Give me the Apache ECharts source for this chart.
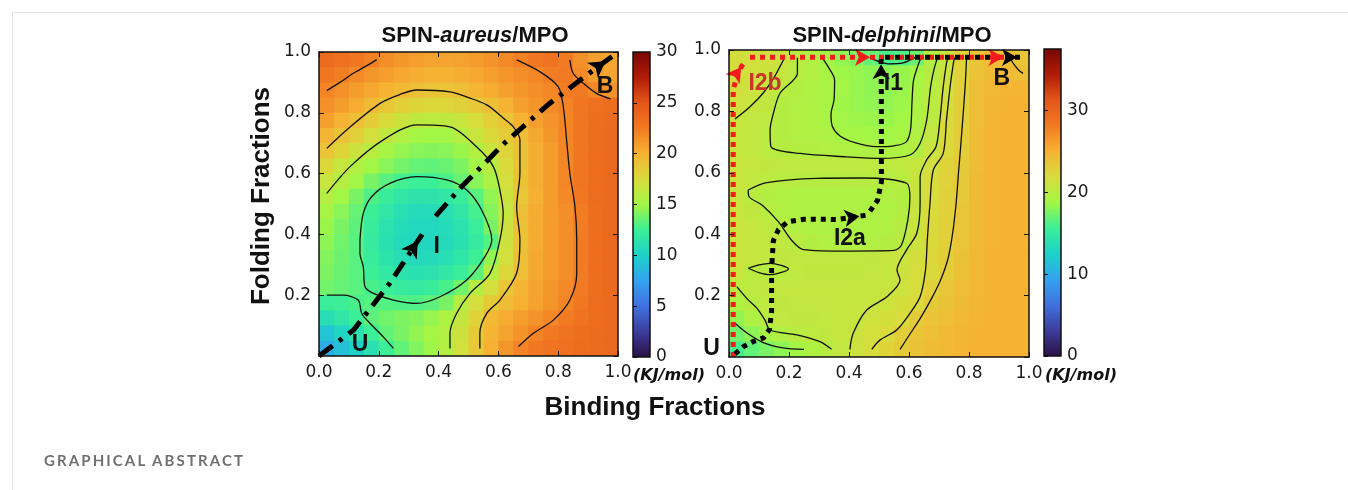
<!DOCTYPE html>
<html>
<head>
<meta charset="utf-8">
<script src="https://cdn.jsdelivr.net/npm/echarts@6/dist/echarts.min.js"></script>
<style>
html, body { margin: 0; background: #fff; }
#wrap { position: relative; width: 1348px; height: 490px; }
#chart { width: 1348px; height: 490px; }
#caption { position: absolute; left: 44px; top: 451px; font: bold 15px Lato, sans-serif; letter-spacing: 2.1px; color: #707070; }
</style>
</head>
<body>
<div id="wrap">
<div id="chart"></div>
<div id="caption">GRAPHICAL ABSTRACT</div>
</div>
<script>
// cell centres of the free-energy grids (fractions)
var cellX = [0.025,0.075,0.125,0.175,0.225,0.275,0.325,0.375,0.425,0.475,0.525,0.575,0.625,0.675,0.725,0.775,0.825,0.875,0.925,0.975];
var cellY = [0.975,0.925,0.875,0.825,0.775,0.725,0.675,0.625,0.575,0.525,0.475,0.425,0.375,0.325,0.275,0.225,0.175,0.125,0.075,0.025];
var cellHalf = 0.025;

// colour map, evenly spaced from min to max
var colourStops = ['#2b1146','#3d3d9c','#4071e0','#33a3f0','#1cd2c8','#3cef96','#a2f645','#d8dc3c','#f6b233','#f27a22','#e4561a','#b01c06','#780805'];

// SPIN-aureus/MPO free energy (kJ/mol), rows from top (folding 0.975) to bottom
var aureusRows = [
  [23.5,23.2,22.8,22.2,21.6,21.2,20.9,20.7,20.6,20.7,21.0,21.4,21.8,22.2,22.7,23.0,22.5,21.5,20.8,20.5],
  [22.8,22.3,21.8,21.3,20.9,20.5,20.2,20.0,20.0,20.2,20.5,20.9,21.3,21.6,21.9,22.4,22.6,21.8,21.0,20.6],
  [22.0,21.5,21.0,20.5,20.0,19.6,19.2,19.0,19.0,19.3,19.8,20.3,20.8,21.2,21.6,21.9,22.4,22.6,21.9,21.4],
  [21.5,21.0,20.3,19.5,18.8,18.3,18.0,17.8,17.9,18.2,18.7,19.2,20.0,20.8,21.3,21.7,22.1,22.8,23.2,23.3],
  [20.8,20.0,19.2,18.5,17.6,16.9,16.4,16.2,16.3,16.7,17.4,18.3,19.0,20.0,20.8,21.4,22.0,22.8,23.3,23.5],
  [19.8,19.0,18.3,17.3,16.4,15.7,15.2,15.0,15.1,15.9,16.8,17.7,18.5,19.3,20.4,21.2,22.0,22.8,23.4,23.6],
  [18.9,18.0,16.9,16.0,15.2,14.7,14.4,14.3,14.4,14.8,15.7,16.8,18.0,19.0,20.2,21.0,21.9,22.8,23.4,23.6],
  [17.8,16.6,15.7,15.0,14.4,13.9,13.5,13.4,13.6,14.1,15.0,15.9,17.6,19.0,20.2,21.0,21.9,22.8,23.4,23.6],
  [16.7,15.8,15.0,14.0,13.2,12.7,12.4,12.5,12.9,13.6,14.4,15.4,17.2,18.9,20.2,21.0,21.9,22.8,23.4,23.6],
  [15.9,15.0,14.0,13.0,12.2,11.7,11.4,11.4,11.7,12.3,13.2,14.6,16.9,18.8,20.1,21.0,21.8,22.7,23.4,23.6],
  [15.2,14.4,13.5,12.5,11.7,11.1,10.8,10.8,11.1,11.7,12.7,14.3,16.6,19.2,20.3,21.0,21.6,22.4,23.3,23.6],
  [14.8,14.0,13.3,12.2,11.3,10.8,10.5,10.5,10.8,11.3,12.3,14.0,17.0,19.1,20.3,21.0,21.6,22.4,23.3,23.6],
  [14.5,13.8,13.2,12.1,11.2,10.7,10.4,10.4,10.7,11.2,12.0,13.1,17.0,19.0,20.3,21.0,21.6,22.4,23.3,23.6],
  [14.3,13.7,13.2,12.2,11.4,10.9,10.6,10.7,11.0,11.6,12.5,14.6,17.2,19.2,20.4,21.0,21.6,22.4,23.3,23.6],
  [14.1,13.6,13.2,12.5,11.8,11.4,11.2,11.3,11.7,12.3,13.3,15.9,17.8,19.3,20.4,21.0,21.6,22.4,23.3,23.6],
  [13.8,13.5,13.2,12.8,12.4,12.1,12.0,12.2,12.8,13.8,15.9,17.2,18.8,19.8,20.6,21.2,21.8,22.5,23.3,23.6],
  [12.3,12.5,12.8,13.1,13.1,13.0,13.0,13.3,14.0,15.9,17.3,18.6,19.4,20.1,20.7,21.3,22.0,22.7,23.4,23.6],
  [11.0,11.6,12.4,13.3,13.8,14.1,14.3,14.7,15.5,16.5,18.0,19.6,20.3,20.9,21.4,21.9,22.5,23.0,23.4,23.6],
  [9.3,10.3,11.3,12.4,13.4,14.0,14.6,15.2,15.8,17.0,18.6,19.8,20.6,21.4,22.1,22.6,23.0,23.3,23.5,23.6],
  [8.0,9.0,10.0,11.2,12.4,13.4,14.2,14.9,15.8,17.2,18.7,20.1,21.2,22.1,22.7,23.0,23.2,23.4,23.5,23.6]
];

// SPIN-delphini/MPO free energy (kJ/mol), rows from top to bottom
var delphiniRows = [
  [21.6,21.5,21.3,21.1,20.1,19.5,18.9,18.3,17.6,16.9,16.0,16.2,17.1,19.6,20.9,22.5,23.6,24.2,24.1,23.5],
  [21.6,21.4,21.1,20.7,20.0,19.6,19.1,18.7,18.4,18.2,18.1,18.4,19.0,19.9,21.1,22.6,23.7,24.3,24.4,24.0],
  [21.6,21.2,20.8,20.0,19.7,19.4,19.1,18.8,18.4,18.2,18.2,18.5,19.1,20.0,21.4,22.8,24.0,24.6,24.8,24.8],
  [21.3,21.0,20.5,19.8,19.6,19.4,19.1,18.7,18.4,18.3,18.3,18.6,19.2,20.1,21.6,22.9,24.1,24.7,24.9,25.0],
  [20.9,20.6,20.3,19.8,19.6,19.4,19.2,18.8,18.6,18.5,18.5,18.8,19.3,20.2,22.0,22.9,24.1,24.8,25.0,25.0],
  [20.8,20.6,20.2,19.8,19.6,19.5,19.3,19.0,18.9,18.8,18.8,19.0,19.6,20.6,22.0,23.0,24.2,24.8,25.0,25.0],
  [20.8,20.6,20.2,19.9,19.8,19.7,19.6,19.5,19.4,19.3,19.3,19.4,19.8,21.0,22.2,23.0,24.2,24.8,25.0,25.0],
  [21.0,20.7,20.5,20.4,20.3,20.3,20.3,20.3,20.3,20.3,20.3,20.4,20.7,21.5,22.5,23.2,24.2,24.8,25.0,25.0],
  [21.0,20.6,20.2,20.0,19.9,19.9,19.9,19.9,19.9,19.9,19.9,20.0,20.9,21.9,22.6,23.3,24.3,24.8,25.0,25.0],
  [20.9,20.0,19.7,19.5,19.4,19.4,19.4,19.4,19.4,19.4,19.5,19.7,20.9,21.9,22.7,23.4,24.3,24.8,25.0,25.0],
  [21.0,20.5,20.0,19.6,19.4,19.3,19.3,19.3,19.3,19.3,19.4,19.7,20.9,22.0,22.8,23.5,24.3,24.8,25.0,25.0],
  [21.0,20.7,20.4,20.0,19.6,19.4,19.3,19.3,19.3,19.4,19.5,19.9,21.0,22.1,22.8,23.5,24.3,24.8,25.0,25.0],
  [21.0,20.8,20.6,20.4,20.0,19.7,19.6,19.6,19.6,19.6,19.7,20.0,21.2,22.2,22.8,23.6,24.4,24.8,25.0,25.0],
  [21.0,20.8,20.6,20.5,20.4,20.4,20.4,20.4,20.4,20.5,20.7,21.0,21.6,22.3,22.9,23.8,24.5,24.9,25.0,25.0],
  [20.9,20.2,19.9,20.1,20.4,20.5,20.5,20.5,20.5,20.6,20.8,21.1,21.8,22.1,23.0,23.9,24.5,24.9,25.0,25.0],
  [20.0,20.3,20.5,20.6,20.6,20.6,20.6,20.6,20.7,20.8,20.9,21.2,21.8,22.8,23.5,24.1,24.6,24.9,25.0,25.0],
  [19.4,19.9,20.3,20.5,20.6,20.6,20.6,20.7,20.8,20.9,21.2,21.6,22.0,23.2,23.8,24.3,24.7,24.9,25.0,25.0],
  [18.2,19.3,20.0,20.4,20.5,20.5,20.6,20.7,20.9,21.3,21.6,21.9,23.1,23.7,24.1,24.5,24.8,25.0,25.0,25.0],
  [17.3,18.1,19.0,19.6,20.1,20.3,20.5,20.8,21.1,21.5,21.9,22.9,23.6,24.0,24.4,24.7,24.9,25.0,25.0,25.0],
  [15.8,16.8,17.5,18.1,18.8,19.4,19.9,20.6,21.2,21.8,22.5,23.2,23.8,24.2,24.5,24.8,25.0,25.0,25.0,25.0]
];

var aureusMax = 30;
var delphiniMax = 37.5;

// contour lines, [binding, folding]
var aureusContours = [
  [[0.026,0.873],[0.07,0.9],[0.115,0.93],[0.16,0.955],[0.193,0.975]],
  [[0.026,0.683],[0.1,0.75],[0.204,0.831],[0.27,0.86],[0.327,0.875],[0.438,0.869],[0.5,0.85],[0.561,0.826],[0.62,0.78],[0.65,0.754],[0.672,0.711],[0.672,0.601],[0.661,0.491],[0.672,0.382],[0.661,0.272],[0.605,0.184],[0.561,0.14],[0.538,0.075],[0.538,0.025]],
  [[0.026,0.535],[0.104,0.623],[0.215,0.711],[0.327,0.76],[0.438,0.754],[0.527,0.688],[0.583,0.623],[0.605,0.546],[0.616,0.469],[0.605,0.382],[0.572,0.272],[0.505,0.206],[0.46,0.14],[0.438,0.075],[0.438,0.025]],
  [[0.137,0.382],[0.148,0.469],[0.176,0.524],[0.237,0.568],[0.327,0.59],[0.427,0.579],[0.494,0.546],[0.544,0.48],[0.578,0.382],[0.555,0.327],[0.494,0.25],[0.405,0.195],[0.327,0.173],[0.249,0.184],[0.182,0.206],[0.154,0.228],[0.148,0.294],[0.137,0.338],[0.137,0.382]],
  [[0.026,0.2],[0.081,0.2],[0.131,0.184],[0.143,0.14],[0.171,0.107],[0.215,0.063],[0.249,0.025]],
  [[0.661,0.974],[0.739,0.935],[0.8,0.886],[0.817,0.82],[0.828,0.711],[0.839,0.601],[0.856,0.491],[0.862,0.382],[0.862,0.272],[0.839,0.184],[0.784,0.118],[0.717,0.075],[0.667,0.031]],
  [[0.839,0.974],[0.85,0.93],[0.884,0.897],[0.928,0.864],[0.975,0.846]]
];

var delphiniContours = [
  [[0.02,0.775],[0.07,0.815],[0.114,0.86],[0.15,0.91],[0.172,0.95],[0.185,0.975]],
  [[0.228,0.975],[0.228,0.924],[0.17,0.859],[0.148,0.794],[0.137,0.739],[0.14,0.685],[0.237,0.663],[0.392,0.652],[0.503,0.647],[0.603,0.658],[0.637,0.696],[0.659,0.772],[0.672,0.88],[0.683,0.935],[0.695,0.975]],
  [[0.31,0.975],[0.33,0.946],[0.352,0.902],[0.35,0.837],[0.34,0.79],[0.345,0.75],[0.37,0.72],[0.42,0.698],[0.49,0.685],[0.55,0.688],[0.59,0.7],[0.605,0.74],[0.61,0.83],[0.615,0.9],[0.63,0.95],[0.64,0.975]],
  [[0.47,0.975],[0.5,0.962],[0.53,0.955],[0.58,0.958],[0.62,0.975]],
  [[0.064,0.544],[0.126,0.568],[0.29,0.582],[0.44,0.583],[0.592,0.566],[0.603,0.52],[0.596,0.446],[0.575,0.365],[0.55,0.347],[0.4,0.345],[0.248,0.35],[0.208,0.381],[0.165,0.44],[0.11,0.495],[0.067,0.522],[0.064,0.544]],
  [[0.064,0.289],[0.1,0.3],[0.137,0.305],[0.198,0.287],[0.137,0.268],[0.1,0.275],[0.064,0.289]],
  [[0.026,0.229],[0.06,0.19],[0.092,0.16],[0.12,0.12],[0.137,0.088],[0.226,0.072],[0.303,0.05],[0.342,0.025]],
  [[0.02,0.11],[0.06,0.078],[0.114,0.047],[0.18,0.03],[0.25,0.025]],
  [[0.403,0.025],[0.414,0.077],[0.459,0.153],[0.526,0.196],[0.57,0.251],[0.56,0.283],[0.592,0.349],[0.626,0.403],[0.637,0.501],[0.637,0.587],[0.659,0.642],[0.69,0.685],[0.703,0.772],[0.714,0.88],[0.725,0.957],[0.73,0.975]],
  [[0.476,0.025],[0.503,0.055],[0.559,0.088],[0.603,0.142],[0.637,0.196],[0.655,0.283],[0.661,0.381],[0.67,0.501],[0.681,0.609],[0.714,0.663],[0.725,0.772],[0.737,0.88],[0.748,0.957],[0.752,0.975]],
  [[0.792,0.975],[0.787,0.88],[0.775,0.72],[0.765,0.6],[0.757,0.5],[0.745,0.4],[0.73,0.32],[0.705,0.25],[0.675,0.19],[0.64,0.13],[0.6,0.07],[0.57,0.025]],
  [[0.937,0.975],[0.947,0.957],[0.965,0.935],[0.98,0.924]]
];

// pathways, each ends in an arrow head
var aureusPath = [
  [[0.0,0.0],[0.115,0.085],[0.237,0.24],[0.345,0.40]],
  [[0.39,0.46],[0.48,0.56],[0.62,0.70],[0.77,0.83],[0.93,0.95],[0.98,0.985]]
];
var delphiniBlackPath = [
  [[0.02,0.01],[0.05,0.035],[0.08,0.05],[0.115,0.062],[0.135,0.09],[0.142,0.15],[0.142,0.29],[0.148,0.38],[0.165,0.415],[0.195,0.44],[0.25,0.449],[0.36,0.448],[0.46,0.462]],
  [[0.47,0.475],[0.495,0.51],[0.508,0.57],[0.508,0.8],[0.507,0.95],[0.507,0.978]],
  [[0.52,0.976],[0.985,0.976]]
];
var delphiniRedPath = [
  [[0.014,0.0],[0.014,0.87],[0.03,0.93],[0.055,0.965]],
  [[0.07,0.976],[0.495,0.976]],
  [[0.5,0.976],[0.94,0.976]]
];

// state labels [text, binding, folding, colour]
var aureusLabels = [['U',0.137,0.036,'#111'],['I',0.394,0.36,'#111'],['B',0.957,0.886,'#111']];
var delphiniLabels = [['U',-0.058,0.028,'#111'],['I2b',0.12,0.89,'#c8352a'],['I1',0.548,0.89,'#111'],['B',0.909,0.908,'#111'],['I2a',0.403,0.387,'#111']];

function toCells(rows) {
  var out = [];
  for (var j = 0; j < rows.length; j++) {
    for (var i = 0; i < rows[j].length; i++) {
      out.push([cellX[i], cellY[j], rows[j][i]]);
    }
  }
  return out;
}

function renderCell(params, api) {
  var x = api.value(0), y = api.value(1);
  var p0 = api.coord([x - cellHalf, y + cellHalf]);
  var p1 = api.coord([x + cellHalf, y - cellHalf]);
  return {
    type: 'rect',
    shape: { x: p0[0], y: p0[1], width: p1[0] - p0[0] + 0.7, height: p1[1] - p0[1] + 0.7 },
    style: { fill: api.visual('color') }
  };
}

function renderColourBar(params, api) {
  var cs = params.coordSys;
  var stops = colourStops.map(function (c, i) {
    return { offset: i / (colourStops.length - 1), color: c };
  });
  return {
    type: 'group',
    children: [
      { type: 'rect', shape: { x: cs.x, y: cs.y, width: cs.width, height: cs.height },
        style: { fill: new echarts.graphic.LinearGradient(0, 1, 0, 0, stops) } },
      { type: 'rect', shape: { x: cs.x, y: cs.y, width: cs.width, height: cs.height },
        style: { fill: 'none', stroke: '#111', lineWidth: 1.5 } }
    ]
  };
}

var tickFont = { fontFamily: 'DejaVu Sans', fontSize: 17, color: '#1a1a1a' };

function frameAxis(pos, grid, showLabel) {
  return {
    type: 'value', gridIndex: grid, position: pos, min: 0, max: 1, interval: 0.2, z: 10,
    axisLine: { show: true, onZero: false, lineStyle: { color: '#111', width: 1.5 } },
    axisTick: { show: true, inside: true, length: 5, lineStyle: { color: '#111', width: 1 } },
    splitLine: { show: false },
    axisLabel: Object.assign({ show: showLabel, margin: 8, showMinLabel: pos === 'left' ? false : true,
      formatter: function (v) { return v.toFixed(1); } }, tickFont)
  };
}

function barAxis(grid, max, interval) {
  return {
    type: 'value', gridIndex: grid, position: 'right', min: 0, max: max, interval: interval, z: 10,
    axisLine: { show: false },
    axisTick: { show: true, length: 4, lineStyle: { color: '#111' } },
    splitLine: { show: false },
    axisLabel: Object.assign({ margin: 6, showMaxLabel: max % interval === 0 }, tickFont)
  };
}

function contourSeries(lines, axis) {
  return lines.map(function (pts) {
    return { type: 'line', xAxisIndex: axis, yAxisIndex: axis, data: pts, smooth: 0.3,
      symbol: 'none', silent: true, z: 3, lineStyle: { color: '#111', width: 1.3 } };
  });
}

// dashed body of each path
function pathSeries(paths, axis, colour, dash, width) {
  return { type: 'lines', coordinateSystem: 'cartesian2d', xAxisIndex: axis, yAxisIndex: axis,
    polyline: true, silent: true, z: 5,
    data: paths.map(function (p) { return { coords: p }; }),
    lineStyle: { color: colour, width: width, type: dash, cap: 'butt', opacity: 1 } };
}

// arrow head at the end of each path, turned along the last segment, tip on the end point
function arrowSeries(paths, axis, colour, size) {
  return { type: 'scatter', xAxisIndex: axis, yAxisIndex: axis, silent: true, z: 6, clip: false,
    symbol: 'arrow', symbolSize: size,
    itemStyle: { color: colour, opacity: 1 },
    data: paths.map(function (p) {
      var a = p[p.length - 2], b = p[p.length - 1];
      var dx = (b[0] - a[0]) * 300, dy = (b[1] - a[1]) * 305;
      var len = Math.sqrt(dx * dx + dy * dy), back = size[1] / 2;
      return {
        value: [b[0] - dx / len * back / 300, b[1] - dy / len * back / 305],
        symbolRotate: Math.atan2(dy, dx) * 180 / Math.PI - 90
      };
    }) };
}

function labelSeries(labels, axis) {
  return { type: 'scatter', xAxisIndex: axis, yAxisIndex: axis, symbolSize: 1, clip: false, silent: true, z: 7,
    itemStyle: { color: 'rgba(0,0,0,0)', opacity: 1 },
    data: labels.map(function (l) {
      return { name: l[0], value: [l[1], l[2]], label: { color: l[3] } };
    }),
    label: { show: true, position: 'inside', formatter: function (p) { return p.name; },
      fontFamily: 'Liberation Sans', fontWeight: 'bold', fontSize: 23 } };
}

var chart = echarts.init(document.getElementById('chart'));

var series = [
  { type: 'custom', xAxisIndex: 0, yAxisIndex: 0, renderItem: renderCell, data: toCells(aureusRows), clip: true, silent: true, z: 1 },
  { type: 'custom', xAxisIndex: 3, yAxisIndex: 3, renderItem: renderCell, data: toCells(delphiniRows), clip: true, silent: true, z: 1 },
  { type: 'custom', xAxisIndex: 2, yAxisIndex: 2, renderItem: renderColourBar, data: [[0, 0]], silent: true },
  { type: 'custom', xAxisIndex: 5, yAxisIndex: 5, renderItem: renderColourBar, data: [[0, 0]], silent: true }
];
series = series.concat(contourSeries(aureusContours, 0), contourSeries(delphiniContours, 3));
series.push(pathSeries(aureusPath, 0, '#000', [17, 8, 4, 8], 5));
series.push(arrowSeries(aureusPath, 0, '#000', [14, 16]));
series.push(pathSeries(delphiniRedPath, 3, '#f21c1c', [5, 5], 5));
series.push(arrowSeries(delphiniRedPath, 3, '#f21c1c', [13, 15]));
series.push(pathSeries(delphiniBlackPath, 3, '#000', [5, 5], 5));
series.push(arrowSeries(delphiniBlackPath, 3, '#000', [13, 15]));
series.push(labelSeries(aureusLabels, 0));
series.push(labelSeries(delphiniLabels, 3));

var option = {
  animation: false,
  textStyle: { fontFamily: 'DejaVu Sans' },
  grid: [
    { left: 319, top: 52, width: 299, height: 304 },
    { left: 633, top: 52, width: 17, height: 305 },
    { left: 729, top: 50, width: 300, height: 307 },
    { left: 1044, top: 49, width: 17, height: 307 }
  ],
  xAxis: [
    frameAxis('bottom', 0, true),
    frameAxis('top', 0, false),
    { type: 'value', gridIndex: 1, min: 0, max: 1, show: false },
    frameAxis('bottom', 2, true),
    frameAxis('top', 2, false),
    { type: 'value', gridIndex: 3, min: 0, max: 1, show: false }
  ],
  yAxis: [
    frameAxis('left', 0, true),
    frameAxis('right', 0, false),
    barAxis(1, aureusMax, 5),
    frameAxis('left', 2, true),
    frameAxis('right', 2, false),
    barAxis(3, delphiniMax, 10)
  ],
  visualMap: [
    { type: 'continuous', show: false, seriesIndex: 0, dimension: 2, min: 0, max: aureusMax, inRange: { color: colourStops } },
    { type: 'continuous', show: false, seriesIndex: 1, dimension: 2, min: 0, max: delphiniMax, inRange: { color: colourStops } }
  ],
  graphic: [
    { type: 'line', shape: { x1: 12, y1: 12.5, x2: 1348, y2: 12.5 }, style: { stroke: '#e2e2e2', lineWidth: 1 }, silent: true },
    { type: 'line', shape: { x1: 12.5, y1: 12, x2: 12.5, y2: 490 }, style: { stroke: '#e2e2e2', lineWidth: 1 }, silent: true },
    { type: 'text', x: 475, y: 36, silent: true, style: {
        text: '{a|SPIN-}{b|aureus}{a|/MPO}', align: 'center', verticalAlign: 'middle',
        rich: { a: { fontFamily: 'Liberation Sans', fontWeight: 'bold', fontSize: 22, fill: '#111' },
                b: { fontFamily: 'Liberation Sans', fontWeight: 'bold', fontStyle: 'italic', fontSize: 22, fill: '#111' } } } },
    { type: 'text', x: 892, y: 36, silent: true, style: {
        text: '{a|SPIN-}{b|delphini}{a|/MPO}', align: 'center', verticalAlign: 'middle',
        rich: { a: { fontFamily: 'Liberation Sans', fontWeight: 'bold', fontSize: 22, fill: '#111' },
                b: { fontFamily: 'Liberation Sans', fontWeight: 'bold', fontStyle: 'italic', fontSize: 22, fill: '#111' } } } },
    { type: 'text', x: 262, y: 196, rotation: Math.PI / 2, silent: true, style: {
        text: 'Folding Fractions', align: 'center', verticalAlign: 'middle',
        fontFamily: 'Liberation Sans', fontWeight: 'bold', fontSize: 26, fill: '#111' } },
    { type: 'text', x: 655, y: 408, silent: true, style: {
        text: 'Binding Fractions', align: 'center', verticalAlign: 'middle',
        fontFamily: 'Liberation Sans', fontWeight: 'bold', fontSize: 26, fill: '#111' } },
    { type: 'text', x: 633, y: 376, silent: true, style: {
        text: '(KJ/mol)', align: 'left', verticalAlign: 'middle',
        fontFamily: 'DejaVu Sans', fontWeight: 'bold', fontStyle: 'italic', fontSize: 16, fill: '#111' } },
    { type: 'text', x: 1045, y: 376, silent: true, style: {
        text: '(KJ/mol)', align: 'left', verticalAlign: 'middle',
        fontFamily: 'DejaVu Sans', fontWeight: 'bold', fontStyle: 'italic', fontSize: 16, fill: '#111' } }
  ],
  series: series
};

chart.setOption(option);
</script>
</body>
</html>
